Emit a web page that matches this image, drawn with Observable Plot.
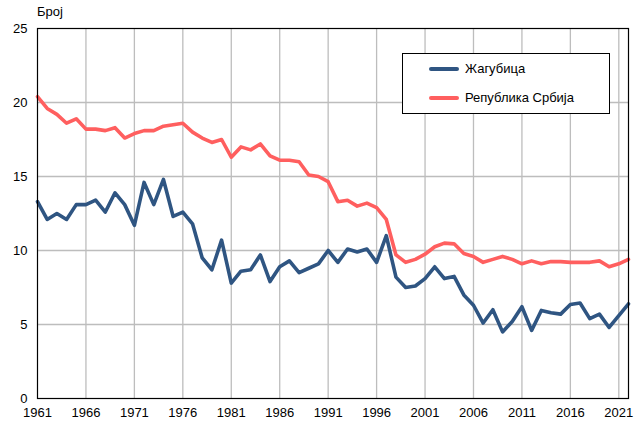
<!DOCTYPE html>
<html>
<head>
<meta charset="utf-8">
<script src="https://cdn.jsdelivr.net/npm/d3@7"></script>
<script src="https://cdn.jsdelivr.net/npm/@observablehq/plot@0.6"></script>
<style>
  body { margin: 0; background: #fff; font-family: "Liberation Sans", Arial, sans-serif; }
  #wrap { position: relative; width: 635px; height: 421px; overflow: hidden; }
  #unit { position: absolute; left: 37px; top: 4px; font-size: 13px; color: #000; }
  #legend { position: absolute; left: 402px; top: 53px; width: 206px; height: 59px; border: 1px solid #000; background: #fff; font-size: 13px; }
  .item { position: absolute; left: 26px; display: flex; align-items: center; }
  .swatch { width: 30px; height: 4px; border-radius: 2px; margin-right: 6px; }
</style>
</head>
<body>
<div id="wrap">
  <div id="chart"></div>
  <div id="unit">Број</div>
  <div id="legend"></div>
</div>
<script>
const years = d3.range(1961, 2023);
const seriesNames = ["Жагубица", "Република Србија"];
const seriesColors = ["#2f5582", "#ff5f5f"];
const zagubica = [
  13.3, 12.1, 12.5, 12.1, 13.1, 13.1, 13.4, 12.6, 13.9, 13.1,
  11.7, 14.6, 13.1, 14.8, 12.3, 12.6, 11.8, 9.5, 8.7, 10.7,
  7.8, 8.6, 8.7, 9.7, 7.9, 8.9, 9.3, 8.5, 8.8, 9.1,
  10.0, 9.2, 10.1, 9.9, 10.1, 9.2, 11.0, 8.2, 7.5, 7.6,
  8.1, 8.9, 8.1, 8.25, 7.0, 6.3, 5.1, 6.0, 4.5, 5.2,
  6.2, 4.6, 5.95, 5.8, 5.7, 6.35, 6.45, 5.4, 5.7, 4.8,
  5.6, 6.4
];
const srbija = [
  20.4, 19.6, 19.2, 18.6, 18.9, 18.2, 18.2, 18.1, 18.3, 17.6,
  17.9, 18.1, 18.1, 18.4, 18.5, 18.6, 18.0, 17.6, 17.3, 17.5,
  16.3, 17.0, 16.8, 17.2, 16.4, 16.1, 16.1, 16.0, 15.1, 15.0,
  14.65, 13.3, 13.4, 13.0, 13.2, 12.9, 12.1, 9.7, 9.2, 9.4,
  9.75, 10.25, 10.5, 10.45, 9.8, 9.6, 9.2, 9.4, 9.6, 9.4,
  9.1, 9.3, 9.1, 9.25, 9.25, 9.2, 9.2, 9.2, 9.3, 8.9,
  9.1, 9.4
];
const xTicks = d3.range(1961, 2022, 5);
const yTicks = [0, 5, 10, 15, 20, 25];

const rows = [];
years.forEach((yr, i) => {
  rows.push({year: yr, value: zagubica[i], series: seriesNames[0]});
  rows.push({year: yr, value: srbija[i], series: seriesNames[1]});
});

const chart = Plot.plot({
  width: 635,
  height: 421,
  marginLeft: 37,
  marginRight: 7,
  marginTop: 28,
  marginBottom: 23,
  style: { fontFamily: "'Liberation Sans', Arial, sans-serif", fontSize: "13px", color: "#000", background: "#fff" },
  x: { domain: [1961, 2022], ticks: xTicks, tickFormat: d => String(d), tickSize: 0, tickPadding: 9, label: null },
  y: { domain: [0, 25], ticks: yTicks, tickSize: 0, tickPadding: 10, label: null },
  color: { domain: seriesNames, range: seriesColors },
  marks: [
    Plot.ruleX(xTicks.slice(1), { stroke: "#bdbdbd", strokeWidth: 1.3 }),
    Plot.ruleY(yTicks.slice(1, -1), { stroke: "#bdbdbd", strokeWidth: 1.3 }),
    Plot.line(rows, { x: "year", y: "value", z: "series", stroke: "series", strokeWidth: 3.6, strokeLinejoin: "round", strokeLinecap: "round" }),
    Plot.frame({ stroke: "#000", strokeWidth: 1.2 })
  ]
});
document.getElementById("chart").appendChild(chart);

const legend = document.getElementById("legend");
seriesNames.forEach((name, i) => {
  const item = document.createElement("div");
  item.className = "item";
  item.style.top = (i === 0 ? 7 : 36) + "px";
  const sw = document.createElement("div");
  sw.className = "swatch";
  sw.style.background = seriesColors[i];
  const lab = document.createElement("span");
  lab.textContent = name;
  item.appendChild(sw);
  item.appendChild(lab);
  legend.appendChild(item);
});
</script>
</body>
</html>
